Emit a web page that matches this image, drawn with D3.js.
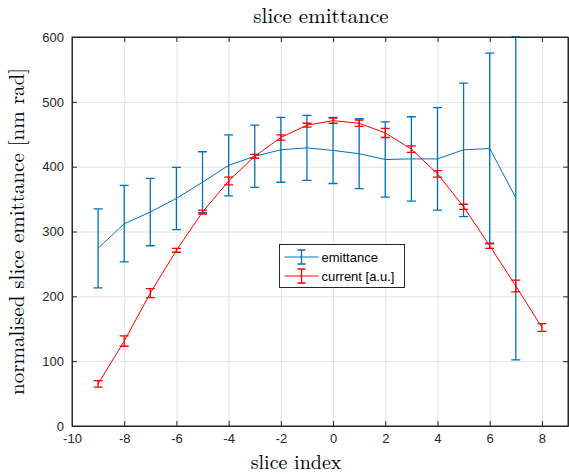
<!DOCTYPE html>
<html>
<head>
<meta charset="utf-8">
<script src="https://cdn.jsdelivr.net/npm/d3@7"></script>
<style>
  body { margin: 0; background: #fff; }
  svg { display: block; }
</style>
</head>
<body>
<svg id="chart" width="569" height="474"></svg>
<script>
// slice index for each measurement
const sliceIdx = [-9, -8, -7, -6, -5, -4, -3, -2, -1, 0, 1, 2, 3, 4, 5, 6, 7];
const emittance = [274, 312, 330, 351, 376, 402, 416, 426, 429, 425, 420, 411, 412, 412, 426, 428, 352];
const emittanceErr = [61, 59, 52, 48, 47, 47, 48, 50, 50, 51, 54, 58, 65, 79, 103, 147, 250];

const currentIdx = [-9, -8, -7, -6, -5, -4, -3, -2, -1, 0, 1, 2, 3, 4, 5, 6, 7, 8];
const current = [65, 131, 205, 271, 330, 378, 416, 445, 464, 471, 467, 452, 427, 389, 338, 278, 216, 152];
const currentErr = [5, 8, 7, 3, 3, 6, 3, 4, 3, 4, 5, 7, 5, 5, 4, 4, 9, 6];

const xTicks = [-10, -8, -6, -4, -2, 0, 2, 4, 6, 8];
const yTicks = [0, 100, 200, 300, 400, 500, 600];

const mLeft = 72, mRight = 568, mTop = 37, mBottom = 426;
const w = mRight - mLeft, h = mBottom - mTop;

const svg = d3.select('#chart');
const x = d3.scaleLinear().domain([-10, 9]).range([mLeft, mRight]);
const y = d3.scaleLinear().domain([0, 600]).range([mBottom, mTop]);

// grid
svg.append('g')
  .attr('transform', `translate(0,${mBottom})`)
  .call(d3.axisBottom(x).tickValues(xTicks).tickSize(-h).tickFormat(''))
  .call(g => g.select('.domain').remove())
  .selectAll('line').attr('stroke', '#e3e3e3');
svg.append('g')
  .attr('transform', `translate(${mLeft},0)`)
  .call(d3.axisLeft(y).tickValues(yTicks).tickSize(-w).tickFormat(''))
  .call(g => g.select('.domain').remove())
  .selectAll('line').attr('stroke', '#e3e3e3');

const axisFont = g => g.selectAll('text')
  .attr('font-family', 'Liberation Sans, Arial, sans-serif')
  .attr('font-size', 13).attr('fill', '#262626');

// axes, ticks pointing inward like matlab (plain hyphen for negatives)
const plain = d => String(d);
const axes = svg.append('g').attr('class', 'axes');
axes.append('g')
  .attr('transform', `translate(0,${mBottom})`)
  .call(d3.axisBottom(x).tickValues(xTicks).tickSize(-5).tickPadding(8).tickSizeOuter(0).tickFormat(plain))
  .call(axisFont);
axes.append('g')
  .attr('transform', `translate(0,${mTop})`)
  .call(d3.axisTop(x).tickValues(xTicks).tickSize(-5).tickFormat('').tickSizeOuter(0));
axes.append('g')
  .attr('transform', `translate(${mLeft},0)`)
  .call(d3.axisLeft(y).tickValues(yTicks).tickSize(-5).tickPadding(8).tickSizeOuter(0).tickFormat(plain))
  .call(axisFont);
axes.append('g')
  .attr('transform', `translate(${mRight},0)`)
  .call(d3.axisRight(y).tickValues(yTicks).tickSize(-5).tickFormat('').tickSizeOuter(0));
axes.selectAll('.domain, .tick line').attr('stroke', '#262626');

const plot = svg.append('g');
const cap = 4.5;

function errorSeries(xs, ys, es, color) {
  const pts = xs.map((d, i) => ({ x: d, y: ys[i], e: es[i] }));
  plot.append('path')
    .datum(pts)
    .attr('fill', 'none')
    .attr('stroke', color)
    .attr('stroke-width', 1)
    .attr('d', d3.line().x(d => x(d.x)).y(d => y(d.y)));
  plot.selectAll(null)
    .data(pts)
    .enter().append('path')
    .attr('fill', 'none')
    .attr('stroke', color)
    .attr('stroke-width', 1.3)
    .attr('d', d => {
      const cx = x(d.x);
      const y1 = Math.max(y(d.y + d.e), mTop), y0 = y(d.y - d.e);
      return `M${cx},${y0}V${y1}M${cx - cap},${y0}H${cx + cap}M${cx - cap},${y1}H${cx + cap}`;
    });
}

errorSeries(sliceIdx, emittance, emittanceErr, '#0072BD');
errorSeries(currentIdx, current, currentErr, '#FF0000');

// box on top
svg.append('rect')
  .attr('x', mLeft).attr('y', mTop).attr('width', w).attr('height', h)
  .attr('fill', 'none').attr('stroke', '#262626').attr('stroke-width', 1);

// legend
const leg = svg.append('g').attr('transform', 'translate(279.5,244.5)');
leg.append('rect').attr('width', 125).attr('height', 43)
  .attr('fill', '#fff').attr('stroke', '#262626').attr('stroke-width', 1);
const legItems = [
  { label: 'emittance', color: '#0072BD' },
  { label: 'current [a.u.]', color: '#FF0000' }
];
legItems.forEach((d, i) => {
  const ly = 12.5 + i * 19;
  const g = leg.append('g');
  g.append('path').attr('stroke', d.color).attr('stroke-width', 1).attr('fill', 'none')
    .attr('d', `M5,${ly}H39`);
  g.append('path').attr('stroke', d.color).attr('stroke-width', 1.3).attr('fill', 'none')
    .attr('d', `M22,${ly - 7}V${ly + 7}M18,${ly - 7}H26M18,${ly + 7}H26`);
  g.append('text').attr('x', 42).attr('y', ly).attr('dy', '0.35em')
    .attr('font-family', 'Liberation Sans, Arial, sans-serif')
    .attr('font-size', 13).attr('fill', '#000').text(d.label);
});

// titles
const serif = 'Latin Modern Roman, CMU Serif, Liberation Serif, DejaVu Serif, serif';
svg.append('text').attr('x', (mLeft + mRight) / 2 + 1).attr('y', 23)
  .attr('text-anchor', 'middle').attr('font-family', serif).attr('font-size', 21)
  .text('slice emittance');
svg.append('text').attr('x', (mLeft + mRight) / 2 - 24).attr('y', 469)
  .attr('text-anchor', 'middle').attr('font-family', serif).attr('font-size', 20)
  .text('slice index');
svg.append('text')
  .attr('transform', `translate(24,${(mTop + mBottom) / 2}) rotate(-90)`)
  .attr('text-anchor', 'middle').attr('font-family', serif).attr('font-size', 21)
  .text('normalised slice emittance [nm rad]');
</script>
</body>
</html>
